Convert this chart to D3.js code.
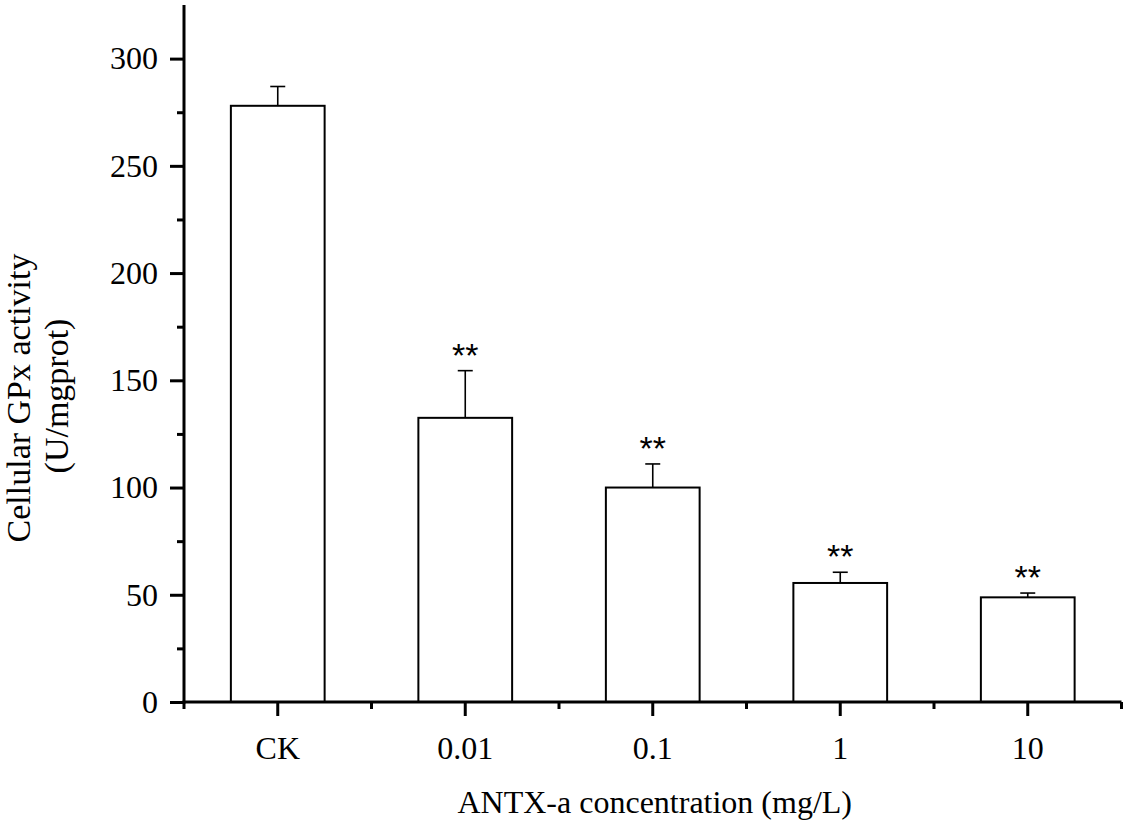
<!DOCTYPE html>
<html>
<head>
<meta charset="utf-8">
<script src="https://cdn.jsdelivr.net/npm/d3@7"></script>
<style>
  html, body { margin: 0; padding: 0; background: #fff; }
  svg { display: block; }
</style>
</head>
<body>
<svg id="chart" width="1126" height="827"></svg>
<script>
const categories = ["CK", "0.01", "0.1", "1", "10"];
const values = [278, 132.5, 100, 55.5, 48.8];
const errors = [9, 22, 11, 5, 2];
const significance = ["", "**", "**", "**", "**"];
const yMajorTicks = [0, 50, 100, 150, 200, 250, 300];
const yMinorTicks = [25, 75, 125, 175, 225, 275];
const yTitleLines = ["Cellular GPx activity", "(U/mgprot)"];
const xTitle = "ANTX-a concentration (mg/L)";

const svg = d3.select("#chart");
const serif = "'Liberation Serif', 'Times New Roman', serif";
const plotLeft = 184, plotRight = 1121.5, plotTop = 5, plotBottom = 702;

const x = d3.scaleBand().domain(categories).range([plotLeft, plotRight]).padding(0);
const y = d3.scaleLinear().domain([0, 325]).range([plotBottom, plotTop]);

const barW = x.bandwidth() * 0.5;

// Bars
svg.append("g").selectAll("rect").data(categories).join("rect")
  .attr("x", (d) => x(d) + (x.bandwidth() - barW) / 2)
  .attr("y", (d, i) => y(values[i]))
  .attr("width", barW)
  .attr("height", (d, i) => plotBottom - y(values[i]))
  .attr("fill", "#fff")
  .attr("stroke", "#000")
  .attr("stroke-width", 2);

// Error bars
const eg = svg.append("g").attr("stroke", "#000").attr("stroke-width", 1.6);
categories.forEach((c, i) => {
  const cx = x(c) + x.bandwidth() / 2;
  eg.append("line").attr("x1", cx).attr("x2", cx)
    .attr("y1", y(values[i])).attr("y2", y(values[i] + errors[i]));
  eg.append("line").attr("x1", cx - 7.5).attr("x2", cx + 7.5)
    .attr("y1", y(values[i] + errors[i])).attr("y2", y(values[i] + errors[i]));
});

// Significance stars
svg.append("g").selectAll("text").data(categories).join("text")
  .attr("x", (d) => x(d) + x.bandwidth() / 2)
  .attr("y", (d, i) => y(values[i] + errors[i]) - 4)
  .attr("text-anchor", "middle")
  .attr("font-family", "'Liberation Sans', Arial, sans-serif")
  .attr("font-size", 34)
  .attr("fill", "#000")
  .text((d, i) => significance[i]);

// Y axis
const yAxisMajor = d3.axisLeft(y).tickValues(yMajorTicks).tickSize(14).tickSizeOuter(0).tickPadding(12);
const yAxisMinor = d3.axisLeft(y).tickValues(yMinorTicks).tickSize(7).tickSizeOuter(0).tickFormat("");
const gy = svg.append("g").attr("transform", `translate(${plotLeft},0)`).call(yAxisMajor);
const gy2 = svg.append("g").attr("transform", `translate(${plotLeft},0)`).call(yAxisMinor);
[gy, gy2].forEach(g => {
  g.select(".domain").remove();
  g.selectAll(".tick line").attr("stroke", "#000").attr("stroke-width", 3);
});
gy.selectAll(".tick text").attr("font-family", serif).attr("font-size", 32).attr("fill", "#000");

// X axis
const xAxisMajor = d3.axisBottom(x).tickSize(14).tickSizeOuter(0).tickPadding(20);
const gx = svg.append("g").attr("transform", `translate(0,${plotBottom})`).call(xAxisMajor);
gx.select(".domain").remove();
gx.selectAll(".tick line").attr("stroke", "#000").attr("stroke-width", 3);
gx.selectAll(".tick text").attr("font-family", serif).attr("font-size", 32).attr("fill", "#000");

// Minor x ticks at band boundaries
const boundaries = categories.map(c => x(c)).concat([x(categories[categories.length - 1]) + x.bandwidth()]);
svg.append("g").selectAll("line").data(boundaries).join("line")
  .attr("x1", d => d).attr("x2", d => d)
  .attr("y1", plotBottom).attr("y2", plotBottom + 7)
  .attr("stroke", "#000").attr("stroke-width", 3);

// Axis lines
svg.append("line").attr("x1", plotLeft).attr("x2", plotLeft).attr("y1", plotTop).attr("y2", plotBottom + 1.5)
  .attr("stroke", "#000").attr("stroke-width", 3);
svg.append("line").attr("x1", plotLeft - 1.5).attr("x2", plotRight).attr("y1", plotBottom).attr("y2", plotBottom)
  .attr("stroke", "#000").attr("stroke-width", 3);

// Y title (two lines, centred)
svg.append("text")
  .attr("transform", "translate(30,398) rotate(-90)")
  .attr("text-anchor", "middle")
  .attr("font-family", serif).attr("font-size", 34).attr("fill", "#000")
  .text(yTitleLines[0]);
svg.append("text")
  .attr("transform", "translate(68,396) rotate(-90)")
  .attr("text-anchor", "middle")
  .attr("font-family", serif).attr("font-size", 34).attr("fill", "#000")
  .text(yTitleLines[1]);

// X title
svg.append("text")
  .attr("x", (plotLeft + plotRight) / 2 + 2).attr("y", 813)
  .attr("text-anchor", "middle")
  .attr("font-family", serif).attr("font-size", 32).attr("fill", "#000")
  .text(xTitle);
</script>
</body>
</html>
